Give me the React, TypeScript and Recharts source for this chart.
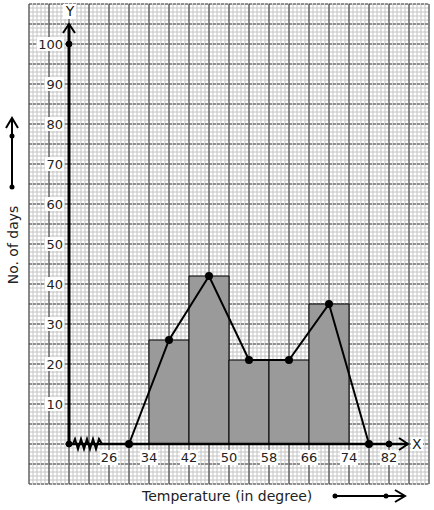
import { ComposedChart, Line, XAxis, YAxis, CartesianGrid, ReferenceLine, ReferenceArea, ReferenceDot } from "recharts";

// frequency polygon (class marks incl. the empty classes at both ends)
const classMarks = [30, 38, 46, 54, 62, 70, 78];
const markDays = [0, 26, 42, 21, 21, 35, 0];

// histogram classes
const classLow = [34, 42, 50, 58, 66];
const classHigh = [42, 50, 58, 66, 74];
const classDays = [26, 42, 21, 21, 35];

const xTicks = [26, 34, 42, 50, 58, 66, 74, 82];
const yTicks = [10, 20, 30, 40, 50, 60, 70, 80, 90, 100];

const X_MIN = 10;
const X_MAX = 90;
const Y_MIN = -10;
const Y_MAX = 110;
const ORIGIN_X = 18;

// graph paper lines in data units
const minorX = Array.from({ length: 101 }, (_, i) => +(X_MIN + i * 0.8).toFixed(2));
const minorY = Array.from({ length: 121 }, (_, i) => Y_MIN + i);
const majorX = Array.from({ length: 21 }, (_, i) => X_MIN + i * 4);
const majorY = Array.from({ length: 25 }, (_, i) => Y_MIN + i * 5);

const polyData = classMarks.map((t, i) => ({ temp: t, days: markDays[i] }));

const font = "DejaVu Sans, Verdana, sans-serif";

const XLabel = (v: number) => (props: any) => {
  const { cx, cy } = props;
  const s = String(v);
  const w = s.length * 8 + 2;
  return (
    <g>
      <rect x={cx - w / 2} y={cy + 6} width={w} height={15} fill="#fff" />
      <text x={cx} y={cy + 18} textAnchor="middle" fontSize={13} fontFamily={font} fill="#222">
        {s}
      </text>
    </g>
  );
};

const YLabel = (v: number) => (props: any) => {
  const { cx, cy } = props;
  const s = String(v);
  const w = s.length * 8 + 2;
  return (
    <g>
      <rect x={cx - 6 - w} y={cy - 7} width={w + 1} height={14} fill="#fff" />
      <text x={cx - 6} y={cy + 5} textAnchor="end" fontSize={13} fontFamily={font} fill="#222">
        {s}
      </text>
    </g>
  );
};

const XArrow = (props: any) => {
  const { cx, cy } = props;
  return (
    <g>
      <path d={`M${cx - 9},${cy - 6} L${cx},${cy} L${cx - 9},${cy + 6}`} stroke="#000" strokeWidth={2} fill="none" />
      <rect x={cx + 3} y={cy - 7} width={12} height={14} fill="#fff" />
      <text x={cx + 4} y={cy + 5} fontSize={14} fontFamily={font} fill="#222">X</text>
    </g>
  );
};

const YArrow = (props: any) => {
  const { cx, cy } = props;
  return (
    <g>
      <path d={`M${cx - 6},${cy + 9} L${cx},${cy} L${cx + 6},${cy + 9}`} stroke="#000" strokeWidth={2} fill="none" />
      <rect x={cx - 6} y={cy - 20} width={13} height={15} fill="#fff" />
      <text x={cx + 1} y={cy - 8} textAnchor="middle" fontSize={14} fontFamily={font} fill="#222">Y</text>
    </g>
  );
};

const Kink = (props: any) => {
  const { cx, cy } = props;
  let d = `M${cx + 4},${cy}`;
  for (let i = 0; i < 9; i++) {
    d += ` L${cx + 6 + i * 3},${cy + (i % 2 === 0 ? -5 : 5)}`;
  }
  d += ` L${cx + 33},${cy}`;
  return <path d={d} stroke="#000" strokeWidth={2} fill="none" />;
};

export default function App() {
  return (
    <div style={{ position: "absolute", left: 0, top: 0, width: 434, height: 510, background: "#fff" }}>
      <ComposedChart
        width={434}
        height={510}
        data={polyData}
        margin={{ top: 4, right: 5, bottom: 26, left: 29 }}
        style={{ fontFamily: font }}
      >
        <XAxis dataKey="temp" type="number" domain={[X_MIN, X_MAX]} hide allowDataOverflow />
        <YAxis type="number" domain={[Y_MIN, Y_MAX]} hide allowDataOverflow />
        <XAxis xAxisId="minor" dataKey="temp" type="number" domain={[X_MIN, X_MAX]} ticks={minorX} interval={0} hide allowDataOverflow />
        <YAxis yAxisId="minor" type="number" domain={[Y_MIN, Y_MAX]} ticks={minorY} interval={0} hide allowDataOverflow />
        <XAxis xAxisId="major" dataKey="temp" type="number" domain={[X_MIN, X_MAX]} ticks={majorX} interval={0} hide allowDataOverflow />
        <YAxis yAxisId="major" type="number" domain={[Y_MIN, Y_MAX]} ticks={majorY} interval={0} hide allowDataOverflow />

        <CartesianGrid xAxisId="minor" yAxisId="minor" stroke="#c4c4c4" strokeWidth={1} />
        <CartesianGrid xAxisId="major" yAxisId="major" horizontal={false} stroke="#333" strokeWidth={1} />
        <CartesianGrid xAxisId="major" yAxisId="major" vertical={false} stroke="#444" strokeWidth={1} strokeDasharray="3 1" />

        {classLow.map((lo, i) => (
          <ReferenceArea
            key={"bar" + lo}
            x1={lo}
            x2={classHigh[i]}
            y1={0}
            y2={classDays[i]}
            fill="#9a9a9a"
            fillOpacity={1}
            stroke="#000"
            strokeWidth={1}
          />
        ))}

        {yTicks.map((v) => (
          <ReferenceDot key={"yl" + v} x={ORIGIN_X} y={v} r={0} shape={YLabel(v)} />
        ))}
        {xTicks.map((v) => (
          <ReferenceDot key={"xl" + v} x={v} y={0} r={0} shape={XLabel(v)} />
        ))}

        <ReferenceLine segment={[{ x: ORIGIN_X, y: 0 }, { x: 85.8, y: 0 }]} stroke="#000" strokeWidth={2.5} />
        <ReferenceLine segment={[{ x: ORIGIN_X, y: 0 }, { x: ORIGIN_X, y: 105 }]} stroke="#000" strokeWidth={3} />
        <ReferenceDot x={ORIGIN_X} y={0} r={0} shape={Kink} />
        <ReferenceDot x={85.8} y={0} r={0} shape={XArrow} />
        <ReferenceDot x={ORIGIN_X} y={105} r={0} shape={YArrow} />
        <ReferenceDot x={ORIGIN_X} y={0} r={3} fill="#000" stroke="#000" />
        <ReferenceDot x={82} y={0} r={3} fill="#000" stroke="#000" />
        <ReferenceDot x={ORIGIN_X} y={100} r={3} fill="#000" stroke="#000" />

        <Line
          type="linear"
          dataKey="days"
          stroke="#000"
          strokeWidth={2}
          dot={{ r: 3, fill: "#000", stroke: "#000" }}
          isAnimationActive={false}
        />
      </ComposedChart>

      <svg width={434} height={510} style={{ position: "absolute", left: 0, top: 0, pointerEvents: "none" }}>
        <text
          transform="translate(18,245) rotate(-90)"
          textAnchor="middle"
          fontSize={14}
          fontFamily={font}
          fill="#222"
        >
          No. of days
        </text>
        <line x1={12} y1={187} x2={12} y2={119} stroke="#000" strokeWidth={2} />
        <path d="M6,128 L12,118 L18,128" stroke="#000" strokeWidth={2} fill="none" />
        <circle cx={12} cy={136} r={2.5} fill="#000" />
        <circle cx={12} cy={187} r={2.5} fill="#000" />

        <text x={142} y={501} fontSize={14} fontFamily={font} fill="#222">
          Temperature (in degree)
        </text>
        <line x1={335} y1={496} x2={404} y2={496} stroke="#000" strokeWidth={2} />
        <path d="M395,490 L405,496 L395,502" stroke="#000" strokeWidth={2} fill="none" />
        <circle cx={335} cy={496} r={2.5} fill="#000" />
        <circle cx={386} cy={496} r={2.5} fill="#000" />
      </svg>
    </div>
  );
}
